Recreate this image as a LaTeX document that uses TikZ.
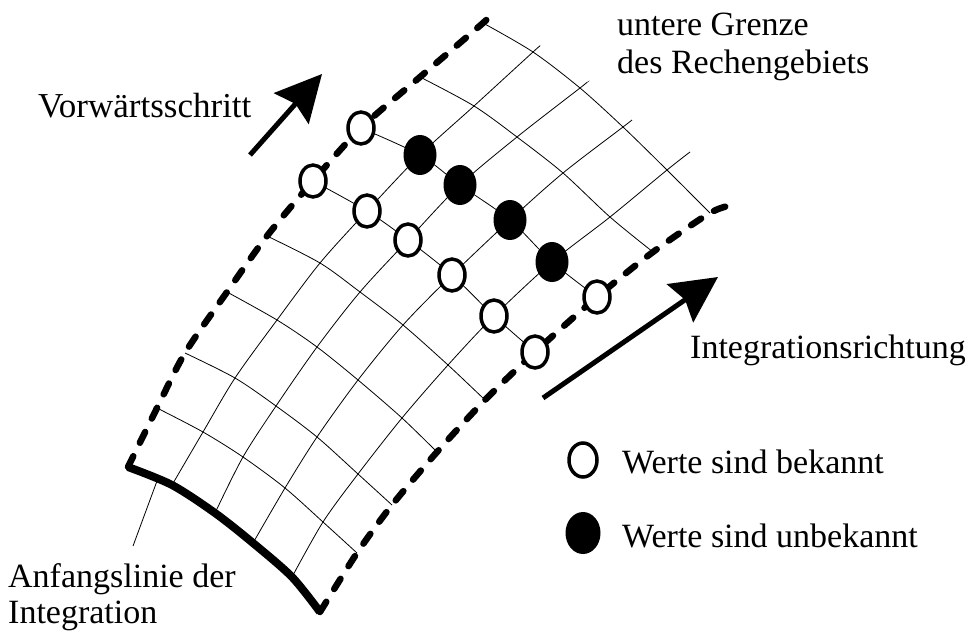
\documentclass[tikz,border=0pt]{standalone}
\usepackage{fontspec}
\setmainfont{Liberation Serif}
\usetikzlibrary{arrows.meta,shapes.geometric}
\begin{document}
\begin{tikzpicture}[x=1pt,y=-1pt,
  gridline/.style={line width=0.8pt},
  bound/.style={line width=6.5pt, dash pattern=on 12pt off 15pt, line cap=round},
  startline/.style={line width=8pt},
  known/.style={ellipse, draw, line width=3.5pt, fill=white, inner sep=0pt, minimum width=26pt, minimum height=32pt},
  unknown/.style={ellipse, fill=black, inner sep=0pt, minimum width=33pt, minimum height=40pt},
  lbl/.style={font=\fontsize{34}{40}\selectfont, inner sep=0pt, anchor=base west},
  bigarrow/.style={line width=5pt, -{Stealth[length=46pt, width=46pt, inset=6pt]}}]
\useasboundingbox (0,0) rectangle (969,632);
% grid coordinates g<i><j>: i = cross line (0 = Anfangslinie), j = longitudinal line
\coordinate (g00) at (128,467); \coordinate (g01) at (172,485); \coordinate (g02) at (215,513); \coordinate (g03) at (253,543); \coordinate (g04) at (292,577); \coordinate (g05) at (320,612);
\coordinate (g10) at (157,408); \coordinate (g11) at (203,432); \coordinate (g12) at (243,457); \coordinate (g13) at (285,488); \coordinate (g14) at (323,522); \coordinate (g15) at (357,553);
\coordinate (g20) at (185,353); \coordinate (g21) at (235,378); \coordinate (g22) at (276,406); \coordinate (g23) at (317,437); \coordinate (g24) at (358,474); \coordinate (g25) at (392,505);
\coordinate (g30) at (227,292); \coordinate (g31) at (277,320); \coordinate (g32) at (317,347); \coordinate (g33) at (358,380); \coordinate (g34) at (402,418); \coordinate (g35) at (437,452);
\coordinate (g40) at (267,236); \coordinate (g41) at (320,263); \coordinate (g42) at (360,292); \coordinate (g43) at (403,325); \coordinate (g44) at (448,365); \coordinate (g45) at (485,400);
\coordinate (g50) at (313,181); \coordinate (g51) at (367,211); \coordinate (g52) at (408,240); \coordinate (g53) at (452,275); \coordinate (g54) at (494,316); \coordinate (g55) at (535,352);
\coordinate (g60) at (361,128); \coordinate (g61) at (420,155); \coordinate (g62) at (460,185); \coordinate (g63) at (510,220); \coordinate (g64) at (552,262); \coordinate (g65) at (597,297);
\coordinate (g70) at (420,77); \coordinate (g71) at (474,106); \coordinate (g72) at (517,137); \coordinate (g73) at (563,173); \coordinate (g74) at (610,217); \coordinate (g75) at (653,252);
\coordinate (g80) at (483,23); \coordinate (g81) at (533,52); \coordinate (g82) at (580,88); \coordinate (g83) at (623,127); \coordinate (g84) at (667,170); \coordinate (g85) at (710,213);
\coordinate (e0) at (490,15); \coordinate (e1) at (540,46); \coordinate (e2) at (586,83); \coordinate (e3) at (632,120); \coordinate (e4) at (690,152); \coordinate (e5) at (733,205);
% cross lines
\foreach \i in {1,...,8}{
  \draw[gridline] plot[smooth] coordinates {(g\i0) (g\i1) (g\i2) (g\i3) (g\i4) (g\i5)};
}
% longitudinal lines
\foreach \j in {1,...,4}{
  \draw[gridline] plot[smooth] coordinates {(g0\j) (g1\j) (g2\j) (g3\j) (g4\j) (g5\j) (g6\j) (g7\j) (g8\j) (e\j)};
}
% boundaries
\draw[bound] plot[smooth] coordinates {(g00) (g10) (g20) (g30) (g40) (g50) (g60) (g70) (g80) (e0)};
\draw[bound] plot[smooth] coordinates {(g05) (g15) (g25) (g35) (g45) (g55) (g65) (g75) (g85) (e5)};
\draw[startline] plot[smooth] coordinates {(g00) (g01) (g02) (g03) (g04) (g05)};
% leader line
\coordinate (leadlow) at (133,546);
\coordinate (leadtop) at (157,481);
\draw[gridline] (leadlow) -- (leadtop);
% stencil points
\foreach \j in {0,...,5}{ \node[known] (k\j) at (g5\j) {}; }
\node[known] (k60) at (g60) {};
\node[known] (k65) at (g65) {};
\foreach \j in {1,...,4}{ \node[unknown] (u\j) at (g6\j) {}; }
% arrows
\coordinate (vwtail) at (250,155); \coordinate (vwtip) at (322,74);
\draw[bigarrow] (vwtail) -- (vwtip);
\coordinate (irtail) at (543,398); \coordinate (irtip) at (718,277);
\draw[bigarrow] (irtail) -- (irtip);
% labels
\node[lbl, font=\fontsize{35}{40}\selectfont] (vw) at (38,117) {Vorwärtsschritt};
\node[lbl] (ug1) at (617,35) {untere Grenze};
\node[lbl] (ug2) at (617,73) {des Rechengebiets};
\node[lbl] (ir) at (690,358) {Integrationsrichtung};
\node[lbl] (an1) at (8,587) {Anfangslinie der};
\node[lbl] (an2) at (8,623) {Integration};
% legend
\node[known, minimum width=28pt, minimum height=34pt] (legk) at (583,460) {};
\node[unknown, minimum width=35pt, minimum height=42pt] (legu) at (583,533) {};
\node[lbl] (tk) at (622,473) {Werte sind bekannt};
\node[lbl] (tu) at (622,547) {Werte sind unbekannt};
\end{tikzpicture}
\end{document}
